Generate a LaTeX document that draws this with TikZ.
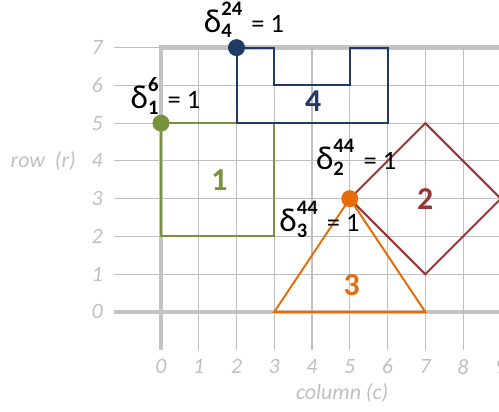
\documentclass[tikz,border=0pt]{standalone}
\usepackage{fontspec}
\setmainfont{Carlito}
\usepackage{tikz}
\usetikzlibrary{positioning}
\definecolor{gridgray}{HTML}{BFBFBF}
\definecolor{axisgray}{HTML}{C3C3C3}
\definecolor{tickgray}{HTML}{C0C0C0}
\definecolor{shpgreen}{HTML}{77933C}
\definecolor{shpblue}{HTML}{1F3A63}
\definecolor{shpred}{HTML}{953735}
\definecolor{shporange}{HTML}{E46C0A}
\newcommand{\scnum}[1]{{\fontsize{15.5}{15.5}\selectfont\bfseries #1}}
\newcommand{\dlabel}[2]{{\fontsize{25}{25}\selectfont δ}\ooalign{\raisebox{13pt}{\scnum{#2}}\cr\raisebox{-4pt}{\scnum{#1}}\cr}\hspace{0.35em}= 1}

\begin{document}
\begin{tikzpicture}[
    gridline/.style={draw=gridgray, line width=0.8pt},
    axisline/.style={draw=axisgray, line width=3.4pt},
    ticklabel/.style={font=\fontsize{16.5}{19}\selectfont\itshape, text=tickgray, inner sep=0pt},
    shapeline/.style={line width=1.5pt, line join=miter},
    shapenum/.style={font=\fontsize{24}{28}\selectfont\bfseries, inner sep=0pt},
    deltalabel/.style={font=\fontsize{20}{24}\selectfont, inner sep=0pt},
    corner/.style={circle, inner sep=0pt, minimum size=0.45cm}
]
\useasboundingbox (-4.265,-2.638) rectangle (8.953,8.262);

% grid
\foreach \r in {1,...,7}
    \draw[gridline] (-1.24,\r) -- (9,\r);
\foreach \c in {1,...,8}
    \draw[gridline] (\c,-1) -- (\c,7);

% axes and frame
\draw[axisline] (0,-1) -- (0,7) -- (9,7) -- (9,0);
\draw[axisline] (-1.24,0) -- (9,0);

% tick labels
\foreach \r in {0,...,7}
    \node[ticklabel] (row\r) at (-1.69,\r) {\r};
\foreach \c in {0,...,9}
    \node[ticklabel] (col\c) at (\c,-1.45) {\c};
\node[ticklabel] (rowtitle) at (-3.12,4) {row\ \ (r)};
\node[ticklabel] (coltitle) at (4.8,-2.15) {column (c)};

% shapes
\draw[shapeline, draw=shpgreen] (0,2) rectangle (3,5);
\draw[shapeline, draw=shpblue] (2,7) -- (3,7) -- (3,6) -- (5,6) -- (5,7) -- (6,7) -- (6,5) -- (2,5) -- cycle;
\draw[shapeline, draw=shpred] (5,3) -- (7,5) -- (9,3) -- (7,1) -- cycle;
\draw[shapeline, draw=shporange] (3,0) -- (7,0) -- (5,3) -- cycle;

\node[shapenum, text=shpgreen] (num1) at (1.55,3.48) {1};
\node[shapenum, text=shpred] (num2) at (7,3) {2};
\node[shapenum, text=shporange] (num3) at (5.05,0.7) {3};
\node[shapenum, text=shpblue] (num4) at (4.03,5.58) {4};

% reference corners
\node[corner, fill=shpgreen] (dot1) at (0,5) {};
\node[corner, fill=shpblue] (dot4) at (2,7) {};
\node[corner, fill=shporange] (dot3) at (5,3) {};

\node[deltalabel] (delta1) at (0.12,5.72) {\dlabel{1}{6}};
\node[deltalabel] (delta4) at (2.2,7.74) {\dlabel{4}{24}};
\node[deltalabel] (delta2) at (5.17,4.1) {\dlabel{2}{44}};
\node[deltalabel] (delta3) at (4.2,2.45) {\dlabel{3}{44}};

\end{tikzpicture}
\end{document}
